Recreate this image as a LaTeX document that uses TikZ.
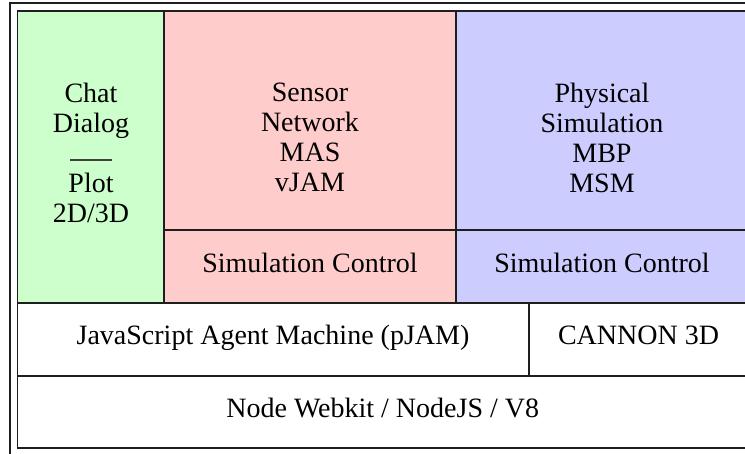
\documentclass[tikz,border=0pt]{standalone}
\usepackage{fontspec}
\setmainfont{Liberation Serif}
\definecolor{gridline}{HTML}{1E1E1E}
\definecolor{chatfill}{HTML}{CCFFCC}
\definecolor{sensorfill}{HTML}{FFCCCC}
\definecolor{physfill}{HTML}{CCCCFF}
\begin{document}
\begin{tikzpicture}[x=1pt,y=-1pt,
  rule/.style={draw=gridline, line width=1.8pt},
  frame/.style={draw=gridline, line width=1.3pt},
  lbl/.style={font=\fontsize{28}{30}\selectfont, inner sep=0pt, align=center, text=black}]
  \useasboundingbox (0,0) rectangle (745,454);
  \clip (0,0) rectangle (745,454);
  % column and row edges
  \def\xL{17.5}\def\xR{748}\def\yT{11}\def\yB{448}
  \def\xg{164}\def\xr{456}\def\xc{529}
  \def\ya{230}\def\yb{303}\def\yc{376}
  % coloured panels
  \fill[chatfill] (\xL,\yT) rectangle (\xg,\yb);
  \fill[sensorfill] (\xg,\yT) rectangle (\xr,\yb);
  \fill[physfill] (\xr,\yT) rectangle (\xR,\yb);
  % outer frame
  \draw[frame] (10,3) rectangle (755,456);
  % table grid
  \draw[rule] (\xL,\yT) rectangle (\xR,\yB);
  \draw[rule] (\xg,\yT) -- (\xg,\yb);
  \draw[rule] (\xr,\yT) -- (\xr,\yb);
  \draw[rule] (\xg,\ya) -- (\xR,\ya);
  \draw[rule] (\xL,\yb) -- (\xR,\yb);
  \draw[rule] (\xL,\yc) -- (\xR,\yc);
  \draw[rule] (\xc,\yb) -- (\xc,\yc);
  % texts
  \node[lbl, anchor=north] (chat) at (91,83)
    {Chat\\Dialog\\{\color{gridline!85}\rule[2pt]{42pt}{1.6pt}}\\Plot\\2D/3D};
  \node[lbl, anchor=north] (sensor) at (310,83) {Sensor\\Network\\MAS\\vJAM};
  \node[lbl, anchor=north] (phys) at (602,83) {Physical\\Simulation\\MBP\\MSM};
  \node[lbl, anchor=base] (simctla) at (310,272.3) {Simulation Control};
  \node[lbl, anchor=base] (simctlb) at (602,272.3) {Simulation Control};
  \node[lbl, anchor=base] (pjam) at (273,345) {JavaScript Agent Machine (pJAM)};
  \node[lbl, anchor=base] (cannon) at (638.5,345) {CANNON 3D};
  \node[lbl, anchor=base] (nw) at (382.75,417.3) {Node Webkit / NodeJS / V8};
\end{tikzpicture}
\end{document}
